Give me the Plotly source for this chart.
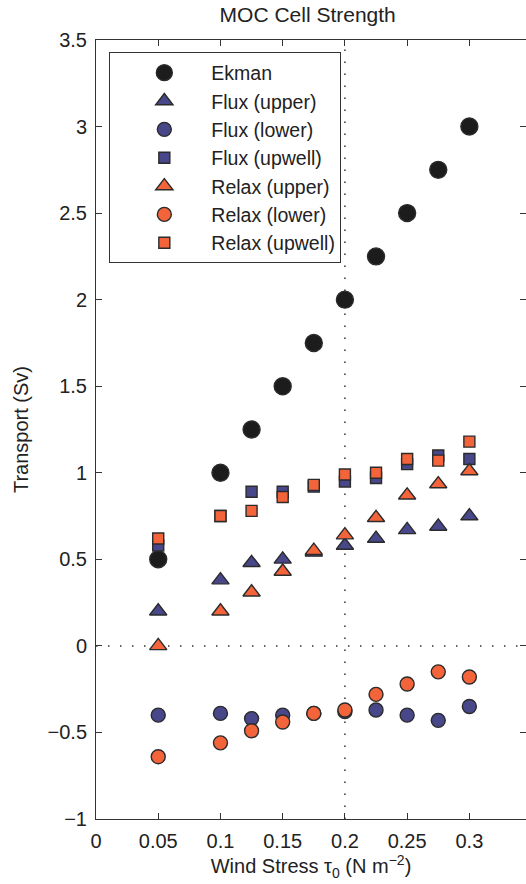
import plotly.graph_objects as go

# Wind stress (N m^-2) at which each run was made
tau = [0.05, 0.1, 0.125, 0.15, 0.175, 0.2, 0.225, 0.25, 0.275, 0.3]

# Transport of each MOC cell (Sv)
ekman = [0.5, 1.0, 1.25, 1.5, 1.75, 2.0, 2.25, 2.5, 2.75, 3.0]
flux_upper = [0.20, 0.38, 0.48, 0.50, 0.54, 0.58, 0.62, 0.67, 0.69, 0.75]
flux_lower = [-0.40, -0.39, -0.42, -0.40, -0.39, -0.38, -0.37, -0.40, -0.43, -0.35]
flux_upwell = [0.58, 0.75, 0.89, 0.89, 0.92, 0.95, 0.97, 1.05, 1.10, 1.08]
relax_upper = [0.0, 0.20, 0.31, 0.43, 0.55, 0.64, 0.74, 0.87, 0.935, 1.01]
relax_lower = [-0.64, -0.56, -0.49, -0.44, -0.39, -0.37, -0.28, -0.22, -0.15, -0.18]
relax_upwell = [0.62, 0.75, 0.78, 0.86, 0.93, 0.99, 1.00, 1.08, 1.07, 1.18]

x_ticks = [0, 0.05, 0.1, 0.15, 0.2, 0.25, 0.3, 0.35]
y_ticks = [-1, -0.5, 0, 0.5, 1, 1.5, 2, 2.5, 3, 3.5]

BLUE = "#47478a"
ORANGE = "#f4643a"
EDGE = "#2b2b2b"
INK = "#222222"
FONT = "Liberation Sans, Arial, sans-serif"

series = [
    ("Ekman", ekman, "circle", "#1c1c1c", 17),
    ("Flux (upper)", flux_upper, "triangle-up", BLUE, 15),
    ("Flux (lower)", flux_lower, "circle", BLUE, 14),
    ("Flux (upwell)", flux_upwell, "square", BLUE, 11),
    ("Relax (upper)", relax_upper, "triangle-up", ORANGE, 15),
    ("Relax (lower)", relax_lower, "circle", ORANGE, 14),
    ("Relax (upwell)", relax_upwell, "square", ORANGE, 11),
]

fig = go.Figure()
for name, vals, sym, col, size in series:
    fig.add_trace(go.Scatter(
        x=tau, y=vals, mode="markers", name=name,
        marker=dict(symbol=sym, color=col, size=size,
                    line=dict(color=EDGE, width=1.4)),
    ))

# Empty trace so the right-hand tick axis gets drawn
fig.add_trace(go.Scatter(x=[], y=[], yaxis="y2", showlegend=False,
                         hoverinfo="skip", mode="markers"))

# Dotted reference lines at zero transport and tau = 0.2
dots = dict(color="#333333", width=1.5, dash="1.5px,10.5px")
fig.add_hline(y=0, line=dots, layer="below")
fig.add_vline(x=0.2, line=dots, layer="below")

axis_common = dict(
    showgrid=False, zeroline=False, showline=True, linecolor="#333333",
    linewidth=1, ticks="inside", ticklen=6, tickcolor="#333333",
    tickfont=dict(family=FONT, size=20, color=INK),
)

fig.update_layout(
    width=526, height=884,
    margin=dict(l=96, r=0, t=40, b=65),
    paper_bgcolor="white", plot_bgcolor="white",
    font=dict(family=FONT, color=INK, size=20),
    title=dict(text="MOC Cell Strength", x=0.585, xanchor="center",
               y=0.983, yanchor="middle",
               font=dict(family=FONT, size=21, color=INK)),
    xaxis=dict(range=[0, 0.3455], tickvals=x_ticks, mirror="ticks",
               ticklabelstandoff=4,
               title=dict(text="Wind Stress τ<sub>0</sub> (N m<sup>−2</sup>)",
                          standoff=2, font=dict(family=FONT, size=20, color=INK)),
               **axis_common),
    yaxis=dict(range=[-1, 3.5], tickvals=y_ticks, mirror=False,
               ticklabelstandoff=4,
               title=dict(text="Transport (Sv)", standoff=13,
                          font=dict(family=FONT, size=20, color=INK)),
               **axis_common),
    yaxis2=dict(range=[-1, 3.5], tickvals=y_ticks, overlaying="y", side="right",
                showticklabels=False, showgrid=False, zeroline=False,
                showline=False, ticks="inside", ticklen=6, tickcolor="#333333"),
    legend=dict(x=0.031, y=0.984, xanchor="left", yanchor="top",
                bgcolor="white", bordercolor="#333333", borderwidth=1,
                font=dict(family=FONT, size=19.5, color=INK),
                indentation=7, itemwidth=84, tracegroupgap=0),
    showlegend=True,
)

fig.write_html("out.html")
